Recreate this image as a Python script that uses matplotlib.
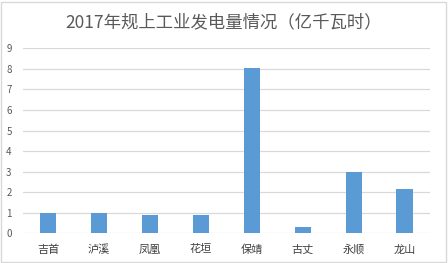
import matplotlib
matplotlib.use("Agg")
import matplotlib.pyplot as plt
from matplotlib.patches import Rectangle

plt.rcParams["font.family"] = ["Noto Sans CJK SC", "DejaVu Sans"]

counties = ["吉首", "泸溪", "凤凰", "花垣", "保靖", "古丈", "永顺", "龙山"]
output = [1.0, 1.0, 0.9, 0.9, 8.05, 0.3, 3.0, 2.17]
y_ticks = list(range(0, 10))

fig = plt.figure(figsize=(4.48, 2.63), dpi=100)
ax = fig.add_axes([0.0507, 0.1129, 0.9093, 0.7034])

x = list(range(len(counties)))
ax.bar(x, output, width=0.32, color="#5b9bd5", zorder=3)

ax.set_xlim(-0.5, len(counties) - 0.5)
ax.set_ylim(0, 9)
ax.set_yticks(y_ticks)
ax.set_xticks(x)
ax.set_xticklabels(counties)
ax.tick_params(axis="x", length=0, labelsize=8, colors="#404040", pad=8)
ax.tick_params(axis="y", length=0, labelsize=7, colors="#595959", pad=8)
ax.grid(axis="y", color="#d9d9d9", linewidth=0.9, zorder=0)
for s in ax.spines.values():
    s.set_visible(False)

fig.text(0.5, 0.915, "2017年规上工业发电量情况（亿千瓦时）", ha="center", va="center",
         fontsize=12.5, color="#595959")

# light frame around the chart area
fig.patches.append(Rectangle((0.002, 0.004), 0.993, 0.99, transform=fig.transFigure,
                             fill=False, edgecolor="#d9d9d9", linewidth=1))

fig.savefig("out.png", dpi=100)
